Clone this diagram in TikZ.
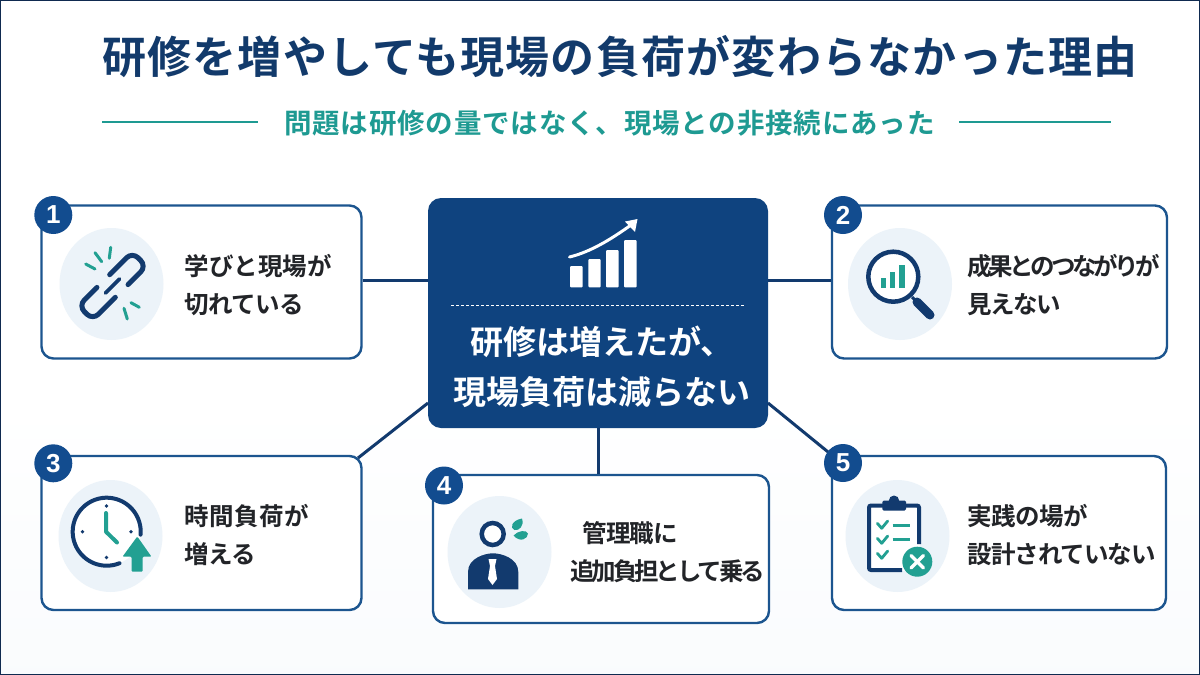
\documentclass[tikz,border=0pt]{standalone}
\usepackage{fontspec}
\setmainfont{Noto Sans CJK JP}[BoldFont={* Bold}]
\newfontfamily\nums{Liberation Sans}
\usetikzlibrary{calc,shapes.geometric}
\definecolor{navy}{HTML}{0F437F}
\definecolor{dnavy}{HTML}{123A6E}
\definecolor{framec}{HTML}{0F2A50}
\definecolor{cardline}{HTML}{1C558F}
\definecolor{badgec}{HTML}{124C8F}
\definecolor{teal2}{HTML}{22A092}
\definecolor{subc}{HTML}{1E9A92}
\definecolor{titlec}{HTML}{123A6B}
\definecolor{halo}{HTML}{ECF3F9}
\definecolor{ink}{HTML}{222428}
\newcommand{\lsp}[1]{\addfontfeature{LetterSpace=#1}}
\tikzset{
 x=1pt,y=-1pt,
 card/.style={draw=cardline,line width=2.4pt,fill=white,rounded corners=12pt,inner sep=0pt},
 link/.style={draw=dnavy,line width=3pt},
 badge/.style={circle,fill=badgec,draw=none,minimum size=38pt,inner sep=0pt,text=white,font=\nums\bfseries\fontsize{26}{26}\selectfont},
 halocirc/.style={ellipse,fill=halo,draw=none,minimum width=104pt,minimum height=112pt,inner sep=0pt},
 cardtext/.style={anchor=west,align=left,text=ink,font=\fontsize{24.5}{38}\selectfont\bfseries},
 ic/.style={draw=dnavy,line width=5pt,line cap=round},
 ict/.style={draw=teal2,line width=3pt,line cap=round},
}
\begin{document}
\begin{tikzpicture}
\useasboundingbox (0,0) rectangle (1200,675);
\fill[white] (0,0) rectangle (1200,400);
\shade[top color=white,bottom color=halo!30] (0,400) rectangle (1200,675);
\draw[framec,line width=2pt] (0,0) rectangle (1200,675);
% title
\node[text=titlec,font=\fontsize{44}{44}\selectfont\bfseries\lsp{2.8}] (title) at (620,57) {研修を増やしても現場の負荷が変わらなかった理由};
\node[text=subc,font=\fontsize{27.5}{27.5}\selectfont\bfseries\lsp{3}] (sub) at (609.5,123) {問題は研修の量ではなく、現場との非接続にあった};
\coordinate (l1) at (102,122); \coordinate (l2) at (258,122);
\coordinate (r1) at (959,122); \coordinate (r2) at (1111,122);
\draw[subc,line width=1.8pt] (l1) -- (l2);
\draw[subc,line width=1.8pt] (r1) -- (r2);
% centre + cards
\node[draw=none,fill=navy,rounded corners=13pt,minimum width=340pt,minimum height=230pt,inner sep=0pt] (hub) at (598,313) {};
\node[card,minimum width=320pt,minimum height=153pt] (c1) at (201.5,282) {};
\node[card,minimum width=335pt,minimum height=153pt] (c2) at (999.5,282) {};
\node[card,minimum width=320pt,minimum height=154pt] (c3) at (201.5,533) {};
\node[card,minimum width=336pt,minimum height=148pt] (c4) at (601,549) {};
\node[card,minimum width=334pt,minimum height=154pt] (c5) at (999,533) {};
\draw[link] (c1.east |- 0,280) -- (hub.west |- 0,280);
\draw[link] (hub.east |- 0,280) -- (c2.west |- 0,280);
\coordinate (h3) at (428,403); \coordinate (k3) at (358,458);
\coordinate (h5) at (768,403); \coordinate (k5) at (833,456);
\draw[link] (h3) -- (k3);
\draw[link] (h5) -- (k5);
\draw[link] (hub.south -| 598,0) -- (c4.north -| 598,0);
% badges
\node[badge] (b1) at (53.3,215) {1};
\node[badge] (b2) at (843,215) {2};
\node[badge] (b3) at (53.3,463.3) {3};
\node[badge] (b4) at (444,485.5) {4};
\node[badge] (b5) at (843,463) {5};
% halos
\node[halocirc] (h1) at (111.5,284) {};
\node[halocirc] (hh2) at (900,284) {};
\node[halocirc] (hh3) at (110.5,536) {};
\node[halocirc] (hh4) at (499.5,552) {};
\node[halocirc] (hh5) at (897.5,536) {};
% hub icon
\fill[white,rounded corners=1pt] (570,266) rectangle (582.7,287.3);
\fill[white,rounded corners=1pt] (588.3,259) rectangle (600.7,287.3);
\fill[white,rounded corners=1pt] (606,250) rectangle (618.7,287.3);
\fill[white,rounded corners=1pt] (624,240) rectangle (636.7,287.3);
\draw[white,line width=3pt,line cap=round] (569.5,257) .. controls (590,252) and (610,240) .. (631,225);
\fill[white] (637.5,219) -- (625,221.5) -- (635,232) -- cycle;
\draw[white,line width=1pt,dash pattern=on 3pt off 2pt] (451,305) -- (745,305);
\node[text=white,align=center,font=\fontsize{33}{50}\selectfont\bfseries] (hubt) at (602,367) {研修は増えたが、\\現場負荷は減らない};
% card text
\node[cardtext] (t1) at (181,285) {学びと現場が\\{\lsp{-2}切れている}};
\node[cardtext] (t2) at (964,285) {{\lsp{-14}成果とのつながりが}\\{\lsp{-6}見えない}};
\node[cardtext] (t3) at (181,535) {{\lsp{2}時間負荷が}\\{\lsp{-2}増える}};
\node[cardtext] (t4) at (567,552) {\hspace*{12pt}{\lsp{-4}管理職に}\\{\lsp{-13}追加負担として乗る}};
\node[cardtext] (t5) at (964,535) {{\lsp{-2}実践の場が}\\{\lsp{-4}設計されていない}};
% icon 1: broken chain
\begin{scope}[shift={(112.5,286)},rotate=45]
\draw[ic,rounded corners=8pt] (6,-10) -- (38,-10) -- (38,10) -- (12,10);
\draw[ic,rounded corners=8pt] (-6,10) -- (-38,10) -- (-38,-10) -- (-12,-10);
\draw[ic,line width=3.8pt] (-10,0) -- (10,0);
\end{scope}
\draw[ict] (85.7,264) -- (95,269);
\draw[ict] (95,252.7) -- (101.7,261.7);
\draw[ict] (110.7,247.3) -- (109.3,258.3);
\draw[ict] (139.3,307.3) -- (131,302.7);
\draw[ict] (127.3,319) -- (124,308.3);
% icon 2: magnifier
\draw[dnavy,line width=4.5pt,fill=white] (893.3,276.7) circle (25pt);
\draw[dnavy,line width=3pt] (912,297) -- (918,303);
\draw[dnavy,line width=9pt,line cap=round] (917,302) -- (930,315);
\fill[teal2] (880.7,278.3) rectangle (886,288.3);
\fill[teal2] (890,271.7) rectangle (895.3,288.3);
\fill[teal2] (899.3,265) rectangle (905,288.3);
% icon 3: clock
\fill[white] (106.7,531.7) circle (34pt);
\draw[dnavy,line width=4pt,line cap=round] plot[domain=68:365,samples=80] ({106.7+34*cos(\x)},{531.7+34*sin(\x)});
\foreach \a/\b in {106.5/506,131/531.7,106.5/557.5,82.5/531.7}{\fill[dnavy] (\a,\b) circle (1.8pt);}
\draw[teal2,line width=4pt,line cap=round,line join=round] (106,513) -- (106,531.7) -- (117,542.5);
\fill[teal2,rounded corners=1pt] (137.3,536.5) -- (151.5,556.7) -- (142.7,556.7) -- (142.7,571.7) -- (131.7,571.7) -- (131.7,556.7) -- (122.5,556.7) -- cycle;
% icon 4: person
\fill[dnavy] (468,589.3) -- (468,572) .. controls (468,558) and (485,553.3) .. (493,553.3) .. controls (501,553.3) and (518.3,558) .. (518.3,572) -- (518.3,589.3) -- cycle;
\draw[dnavy,line width=4.5pt,fill=white] (492.7,534) circle (11pt);
\fill[white] (488.5,559) -- (496.5,559) -- (495,566) -- (497,579) -- (492.5,585) -- (488,579) -- (490,566) -- cycle;
\fill[teal2] (522,518.5) .. controls (524.5,526) and (519,531) .. (514.5,530) .. controls (509.5,528) and (511.5,520.5) .. (522,518.5) -- cycle;
\fill[teal2] (513.5,535.5) .. controls (518,530.5) and (526.5,529.5) .. (528,533.5) .. controls (528,539) and (520,543) .. (513.5,535.5) -- cycle;
% icon 5: clipboard
\fill[white] (868.3,505) rectangle (920,570.7);
\draw[dnavy,line width=4pt,rounded corners=2pt] (884,505.5) -- (869,505.5) -- (869,570) -- (902,570);
\draw[dnavy,line width=4pt,rounded corners=2pt] (904,505.5) -- (919,505.5) -- (919,544);
\fill[dnavy,rounded corners=1.5pt] (882.3,500.5) rectangle (906,510.7);
\fill[dnavy] (894,500.7) circle (5.2pt);
\foreach \d in {0,15,30}{
 \draw[teal2,line width=2.8pt,line cap=round,line join=round] (877.3,523.3+\d) -- (881.7,528.3+\d) -- (887.7,521+\d);
}
\draw[teal2,line width=3pt] (892.7,525) -- (910,525);
\draw[teal2,line width=3pt] (892.7,539.3) -- (910,539.3);
\fill[teal2] (917.3,561.7) circle (15pt);
\draw[white,line width=3.4pt,line cap=round] (911,555.5) -- (923.5,568);
\draw[white,line width=3.4pt,line cap=round] (923.5,555.5) -- (911,568);
\end{tikzpicture}
\end{document}
